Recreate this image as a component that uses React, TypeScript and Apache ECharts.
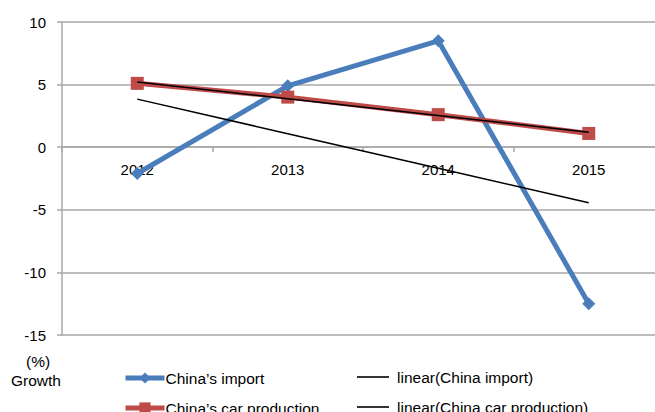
import React, { useEffect, useRef } from "react";
import * as echarts from "echarts";

const years = ["2012", "2013", "2014", "2015"];
const chinaImport = [-2.1, 4.9, 8.5, -12.5];
const carProduction = [5.1, 4.0, 2.6, 1.1];
const seriesNames = [
  "China\u2019s import",
  "China\u2019s car production",
  "linear(China import)",
  "linear(China car production)",
];
const yTicks = { min: -15, max: 10, interval: 5 };

// least-squares linear trend of a series over the category index
function linearTrend(values: number[]): number[] {
  const n = values.length;
  const xs = values.map((_, i) => i + 1);
  const mx = xs.reduce((a, b) => a + b, 0) / n;
  const my = values.reduce((a, b) => a + b, 0) / n;
  let num = 0;
  let den = 0;
  xs.forEach((x, i) => {
    num += (x - mx) * (values[i] - my);
    den += (x - mx) * (x - mx);
  });
  const slope = num / den;
  return xs.map((x) => +(my + slope * (x - mx)).toFixed(3));
}

const FONT = "'Liberation Sans', Arial, sans-serif";
const BLUE = "#4A7EBB";
const RED = "#BE4B48";
const LINE_ICON = "path://M0,6.2L32,6.2L32,7.8L0,7.8Z";

export default function App() {
  const ref = useRef<HTMLDivElement>(null);
  useEffect(() => {
    if (!ref.current) return;
    const chart = echarts.init(ref.current, null, { renderer: "svg" });
    const gray = "#A8A8A8";
    const legendText = { color: "#000", fontSize: 15.5, fontFamily: FONT };
    const legendBase = {
      orient: "horizontal",
      padding: 0,
      itemHeight: 14,
      selectedMode: false,
    };
    chart.setOption({
      animation: false,
      backgroundColor: "#ffffff",
      textStyle: { fontFamily: FONT },
      grid: { left: 62, top: 22, right: 6, bottom: 77, containLabel: false },
      xAxis: {
        type: "category",
        data: years,
        boundaryGap: true,
        position: "bottom",
        offset: -188,
        axisLine: { show: true, onZero: false, lineStyle: { color: gray, width: 1.5 } },
        axisTick: { show: true, length: 5, lineStyle: { color: gray, width: 1.5 } },
        axisLabel: { color: "#000", fontSize: 15, fontFamily: FONT, margin: 15 },
        splitLine: { show: false },
      },
      yAxis: {
        type: "value",
        min: yTicks.min,
        max: yTicks.max,
        interval: yTicks.interval,
        axisLine: { show: true, onZero: false, lineStyle: { color: gray, width: 1.5 } },
        axisTick: { show: true, length: 5, lineStyle: { color: gray, width: 1.5 } },
        axisLabel: { color: "#000", fontSize: 15, fontFamily: FONT, margin: 16 },
        splitLine: { show: true, lineStyle: { color: gray, width: 1.5 } },
      },
      legend: [
        {
          ...legendBase,
          data: [seriesNames[0]],
          left: 123,
          top: 370,
          itemWidth: 39,
          lineStyle: { width: 5 },
          textStyle: { ...legendText, padding: [0, 0, 0, -4] },
        },
        {
          ...legendBase,
          data: [seriesNames[1]],
          left: 123,
          top: 400,
          itemWidth: 39,
          lineStyle: { width: 5 },
          textStyle: { ...legendText, padding: [0, 0, 0, -4] },
        },
        {
          ...legendBase,
          data: [{ name: seriesNames[2], icon: LINE_ICON }],
          left: 357,
          top: 369,
          itemWidth: 32,
          textStyle: { ...legendText, padding: [0, 0, 0, 3] },
        },
        {
          ...legendBase,
          data: [{ name: seriesNames[3], icon: LINE_ICON }],
          left: 357,
          top: 399,
          itemWidth: 32,
          textStyle: { ...legendText, padding: [0, 0, 0, 3] },
        },
      ],
      graphic: [
        {
          type: "text",
          left: 26,
          top: 353,
          style: { text: "(%)", fontSize: 15.5, fontFamily: FONT, fill: "#000" },
        },
        {
          type: "text",
          left: 11,
          top: 372,
          style: { text: "Growth", fontSize: 15.5, fontFamily: FONT, fill: "#000" },
        },
      ],
      series: [
        {
          name: seriesNames[0],
          type: "line",
          data: chinaImport,
          symbol: "diamond",
          symbolSize: 13,
          color: BLUE,
          lineStyle: { width: 5, color: BLUE },
          itemStyle: { color: BLUE },
          z: 2,
        },
        {
          name: seriesNames[1],
          type: "line",
          data: carProduction,
          symbol: "rect",
          symbolSize: 13,
          color: RED,
          lineStyle: { width: 5, color: RED },
          itemStyle: { color: RED },
          z: 3,
        },
        {
          name: seriesNames[2],
          type: "line",
          data: linearTrend(chinaImport),
          symbol: "none",
          color: "#000",
          lineStyle: { width: 1.5, color: "#000" },
          z: 4,
        },
        {
          name: seriesNames[3],
          type: "line",
          data: linearTrend(carProduction),
          symbol: "none",
          color: "#000",
          lineStyle: { width: 1.5, color: "#000" },
          z: 4,
        },
      ],
    });
    return () => chart.dispose();
  }, []);
  return (
    <div
      ref={ref}
      style={{ position: "fixed", left: 0, top: 0, width: 670, height: 412, background: "#fff" }}
    />
  );
}
